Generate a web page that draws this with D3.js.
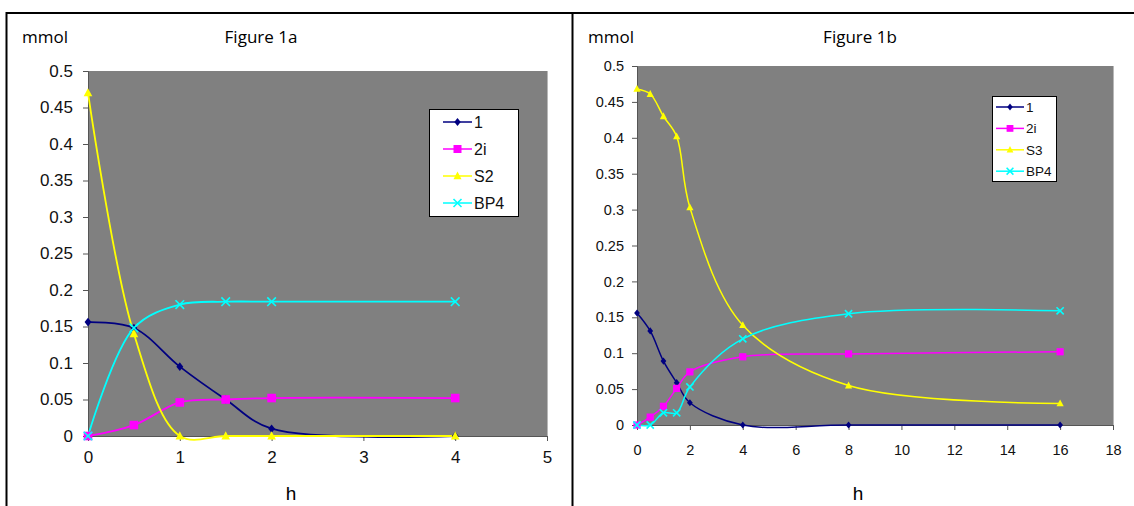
<!DOCTYPE html>
<html>
<head>
<meta charset="utf-8">
<script src="https://cdn.jsdelivr.net/npm/d3@7"></script>
<style>
  body { margin: 0; background: #fff; }
  svg { display: block; }
</style>
</head>
<body>
<svg id="chart" width="1134" height="506"></svg>
<script>
// Figure 1a
const hours1a = [0, 0.5, 1, 1.5, 2, 4];
const names1a = ['1', '2i', 'S2', 'BP4'];
const s1_1a   = [0.156, 0.148, 0.095, 0.050, 0.010, 0.000];
const s2i_1a  = [0.000, 0.015, 0.046, 0.050, 0.052, 0.052];
const sS2_1a  = [0.470, 0.140, 0.000, 0.000, 0.000, 0.000];
const sBP4_1a = [0.000, 0.148, 0.180, 0.184, 0.184, 0.184];

// Figure 1b
const hours1b = [0, 0.5, 1, 1.5, 2, 4, 8, 16];
const names1b = ['1', '2i', 'S3', 'BP4'];
const s1_1b   = [0.156, 0.131, 0.089, 0.059, 0.031, 0.000, 0.000, 0.000];
const s2i_1b  = [0.000, 0.011, 0.026, 0.051, 0.074, 0.095, 0.099, 0.102];
const sS3_1b  = [0.468, 0.461, 0.430, 0.402, 0.303, 0.139, 0.055, 0.030];
const sBP4_1b = [0.000, 0.000, 0.017, 0.017, 0.053, 0.120, 0.155, 0.159];

const yTicks = [0, 0.05, 0.1, 0.15, 0.2, 0.25, 0.3, 0.35, 0.4, 0.45, 0.5];
const xTicks1a = [0, 1, 2, 3, 4, 5];
const xTicks1b = [0, 2, 4, 6, 8, 10, 12, 14, 16, 18];

const colors = ['#000080', '#ff00ff', '#ffff00', '#00ffff'];
const shapes = ['diamond', 'square', 'triangle', 'x'];

const svg = d3.select('#chart');

// frame lines
svg.append('line').attr('x1', 6).attr('x2', 1134).attr('y1', 13).attr('y2', 13)
  .attr('stroke', '#000').attr('stroke-width', 2);
svg.append('line').attr('x1', 6.5).attr('x2', 6.5).attr('y1', 12).attr('y2', 506)
  .attr('stroke', '#000').attr('stroke-width', 2);
svg.append('line').attr('x1', 572.5).attr('x2', 572.5).attr('y1', 12).attr('y2', 506)
  .attr('stroke', '#000').attr('stroke-width', 2);

function marker(g, shape, r, color) {
  if (shape === 'diamond')
    g.append('path').attr('d', `M0,${-r}L${r * 0.8},0L0,${r}L${-r * 0.8},0Z`).attr('fill', color);
  else if (shape === 'square')
    g.append('rect').attr('x', -r).attr('y', -r).attr('width', 2 * r).attr('height', 2 * r).attr('fill', color);
  else if (shape === 'triangle')
    g.append('path').attr('d', `M0,${-r * 1.1}L${r},${r * 0.8}L${-r},${r * 0.8}Z`).attr('fill', color);
  else
    g.append('path').attr('d', `M${-r},${-r}L${r},${r}M${-r},${r}L${r},${-r}`)
      .attr('stroke', color).attr('stroke-width', 1.6).attr('fill', 'none');
}

function panel(o) {
  const g = svg.append('g');
  const x = d3.scaleLinear().domain([0, o.xMax]).range([o.left, o.right]);
  const y = d3.scaleLinear().domain([0, 0.5]).range([o.bottom, o.top]);

  g.append('rect').attr('x', o.left).attr('y', o.top)
    .attr('width', o.right - o.left).attr('height', o.bottom - o.top)
    .attr('fill', '#808080');
  g.append('line').attr('x1', o.right + 0.5).attr('x2', o.right + 0.5)
    .attr('y1', o.top).attr('y2', o.bottom).attr('stroke', '#b8b8b8');

  const yAxis = g.append('g').attr('transform', `translate(${o.left},0)`)
    .call(d3.axisLeft(y).tickValues(yTicks).tickFormat(d => String(+d.toFixed(2)))
      .tickSize(5).tickPadding(o.yPad));
  const xAxis = g.append('g').attr('transform', `translate(0,${o.bottom})`)
    .call(d3.axisBottom(x).tickValues(o.xTicks).tickFormat(d3.format('d'))
      .tickSize(5).tickPadding(o.xPad));
  [yAxis, xAxis].forEach(a => {
    a.select('.domain').attr('stroke', '#555');
    a.selectAll('.tick line').attr('stroke', '#555');
    a.selectAll('text').attr('fill', '#111')
      .style('font-family', 'Liberation Sans, Arial, sans-serif')
      .style('font-size', o.tickFont + 'px');
  });

  const line = d3.line().x((d, i) => x(o.hours[i])).y(d => y(d))
    .curve(d3.curveCatmullRom.alpha(0.5));
  o.series.forEach((vals, k) => {
    g.append('path').attr('d', line(vals)).attr('fill', 'none')
      .attr('stroke', colors[k]).attr('stroke-width', o.lineW);
  });
  o.series.forEach((vals, k) => {
    vals.forEach((v, i) => {
      const m = g.append('g').attr('transform', `translate(${x(o.hours[i])},${y(v)})`);
      marker(m, shapes[k], o.markR, colors[k]);
    });
  });

  // legend
  const lg = o.legend;
  g.append('rect').attr('x', lg.x + 0.5).attr('y', lg.y + 0.5).attr('width', lg.w).attr('height', lg.h)
    .attr('fill', '#fff').attr('stroke', '#000');
  o.names.forEach((name, k) => {
    const cy = lg.y + lg.first + k * lg.step;
    g.append('line').attr('x1', lg.x + lg.l0).attr('x2', lg.x + lg.l1)
      .attr('y1', cy).attr('y2', cy).attr('stroke', colors[k]).attr('stroke-width', 1.5);
    const m = g.append('g').attr('transform', `translate(${lg.x + (lg.l0 + lg.l1) / 2},${cy})`);
    marker(m, shapes[k], lg.markR, colors[k]);
    g.append('text').attr('x', lg.x + lg.l1 + 2).attr('y', cy).attr('dy', '0.36em')
      .style('font-family', 'Liberation Sans, Arial, sans-serif')
      .style('font-size', lg.font + 'px').attr('fill', '#111').text(name);
  });

  // titles
  g.append('text').attr('x', o.mmolX).attr('y', 43)
    .style('font-family', 'Open Sans, sans-serif').style('font-size', '17px').text('mmol');
  g.append('text').attr('x', o.titleX).attr('y', 43).attr('text-anchor', 'middle')
    .style('font-family', 'Open Sans, sans-serif').style('font-size', '17px').text(o.title);
  g.append('text').attr('x', o.hX).attr('y', 500).attr('text-anchor', 'middle')
    .style('font-family', 'Liberation Sans, Arial, sans-serif').style('font-size', '19px').text('h');
}

panel({
  left: 88, right: 547, top: 71, bottom: 436, xMax: 5,
  hours: hours1a, series: [s1_1a, s2i_1a, sS2_1a, sBP4_1a], names: names1a,
  xTicks: xTicks1a, tickFont: 17, yPad: 10, xPad: 10, lineW: 1.8, markR: 4.3,
  legend: {x: 429, y: 109, w: 89, h: 107, first: 13, step: 27, l0: 14, l1: 43, markR: 4, font: 16},
  mmolX: 22, titleX: 261, title: 'Figure 1a', hX: 291
});

panel({
  left: 637, right: 1113, top: 66, bottom: 425, xMax: 18,
  hours: hours1b, series: [s1_1b, s2i_1b, sS3_1b, sBP4_1b], names: names1b,
  xTicks: xTicks1b, tickFont: 14.5, yPad: 8, xPad: 15, lineW: 1.5, markR: 3.6,
  legend: {x: 992, y: 96, w: 64, h: 85, first: 11, step: 21.4, l0: 4, l1: 32, markR: 3.4, font: 13.5},
  mmolX: 588, titleX: 860, title: 'Figure 1b', hX: 858
});
</script>
</body>
</html>
